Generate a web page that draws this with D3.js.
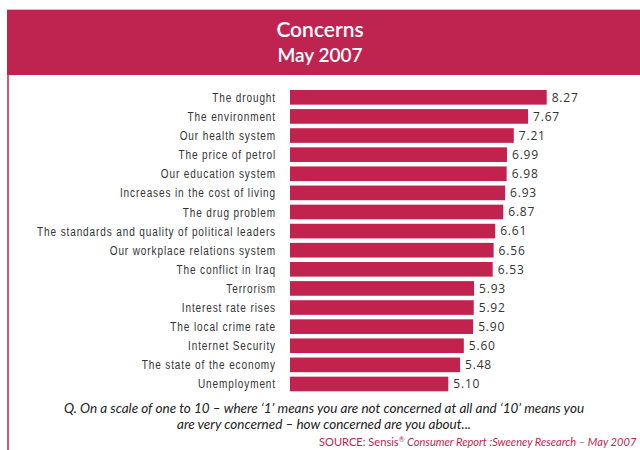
<!DOCTYPE html>
<html>
<head>
<meta charset="utf-8">
<script src="https://cdn.jsdelivr.net/npm/d3@7"></script>
<style>
  html, body { margin: 0; padding: 0; background: #fff; }
  svg { display: block; }
</style>
</head>
<body>
<div id="chart"></div>
<script>
// Mean concern score (1–10) for each issue
const concerns = [
  "The drought",
  "The environment",
  "Our health system",
  "The price of petrol",
  "Our education system",
  "Increases in the cost of living",
  "The drug problem",
  "The standards and quality of political leaders",
  "Our workplace relations system",
  "The conflict in Iraq",
  "Terrorism",
  "Interest rate rises",
  "The local crime rate",
  "Internet Security",
  "The state of the economy",
  "Unemployment"
];
const scores = [8.27, 7.67, 7.21, 6.99, 6.98, 6.93, 6.87, 6.61, 6.56, 6.53, 5.93, 5.92, 5.90, 5.60, 5.48, 5.10];

const titleLines = ["Concerns", "May 2007"];
const questionLines = [
  "Q. On a scale of one to 10 \u2013 where \u20181\u2019 means you are not concerned at all and \u201810\u2019 means you",
  "are very concerned \u2013 how concerned are you about..."
];

const W = 640, H = 450;
const red = "#c1234e";

const svg = d3.select("#chart").append("svg")
  .attr("width", W).attr("height", H);

// Header band
svg.append("rect").attr("x", 7).attr("y", 9).attr("width", W - 7).attr("height", 1)
  .attr("fill", "#e6b3c1");
svg.append("rect").attr("x", 7).attr("y", 10).attr("width", W - 7).attr("height", 65)
  .attr("fill", "#bf2350");
svg.append("line").attr("x1", 8).attr("x2", 8).attr("y1", 75).attr("y2", H)
  .attr("stroke", red).attr("stroke-width", 1.5);

svg.append("text").attr("x", 320).attr("y", 37)
  .attr("text-anchor", "middle").attr("fill", "#fff")
  .style("font-family", "Lato, 'Open Sans', sans-serif").style("font-size", "21px").style("font-weight", 600)
  .text(titleLines[0]);
svg.append("text").attr("x", 320).attr("y", 62)
  .attr("text-anchor", "middle").attr("fill", "#fff")
  .style("font-family", "Lato, 'Open Sans', sans-serif").style("font-size", "19px").style("font-weight", 600)
  .text(titleLines[1]);

// Scales
const x = d3.scaleLinear().domain([0, 10]).range([290, 600.4]);
const y = d3.scaleBand().domain(concerns).range([90, 391.3]).paddingInner(0.234).paddingOuter(0);

const data = concerns.map((c, i) => ({ name: c, value: scores[i] }));

svg.append("g").selectAll("rect").data(data).join("rect")
  .attr("x", x(0))
  .attr("y", d => y(d.name))
  .attr("width", d => x(d.value) - x(0))
  .attr("height", y.bandwidth())
  .attr("fill", red);

// Category labels: a narrow, widely tracked face, made by squeezing a regular sans
const labelRight = 276, longestLabelWidth = 239;
const labels = svg.append("g").selectAll("text").data(data).join("text")
  .attr("text-anchor", "end")
  .attr("dy", "0.36em")
  .attr("fill", "#333")
  .style("font-family", "'Liberation Sans', Arimo, sans-serif")
  .style("font-size", "12.5px")
  .style("letter-spacing", "1.1px")
  .text(d => d.name);
const widest = d3.max(labels.nodes(), n => n.getComputedTextLength());
const squeeze = Math.min(1, longestLabelWidth / widest);
labels.attr("transform", d =>
  `translate(${labelRight},${y(d.name) + y.bandwidth() / 2}) scale(${squeeze},1)`);

// Value labels
svg.append("g").selectAll("text").data(data).join("text")
  .attr("x", d => x(d.value) + 5)
  .attr("y", d => y(d.name) + y.bandwidth() / 2)
  .attr("dy", "0.36em")
  .attr("fill", "#333")
  .style("font-family", "'Open Sans', sans-serif")
  .style("font-size", "12px")
  .style("letter-spacing", "0.8px")
  .text(d => d3.format(".2f")(d.value));

// Question text
svg.append("g").selectAll("text").data(questionLines).join("text")
  .attr("x", 324)
  .attr("y", (d, i) => 413 + i * 16)
  .attr("text-anchor", "middle")
  .attr("fill", "#222")
  .style("font-family", "Lato, sans-serif")
  .style("font-style", "italic")
  .style("font-size", "13.5px")
  .text(d => d);

// Source line
const src = svg.append("text").attr("x", 319).attr("y", 446)
  .attr("fill", red)
  .style("font-family", "Lato, sans-serif")
  .style("font-size", "11.1px");
src.append("tspan").text("SOURCE: Sensis");
src.append("tspan").attr("dy", -4).style("font-size", "7px").text("\u00ae");
src.append("tspan").attr("dy", 4).style("font-style", "italic").text(" Consumer Report :Sweeney Research \u2013 May 2007");
</script>
</body>
</html>
